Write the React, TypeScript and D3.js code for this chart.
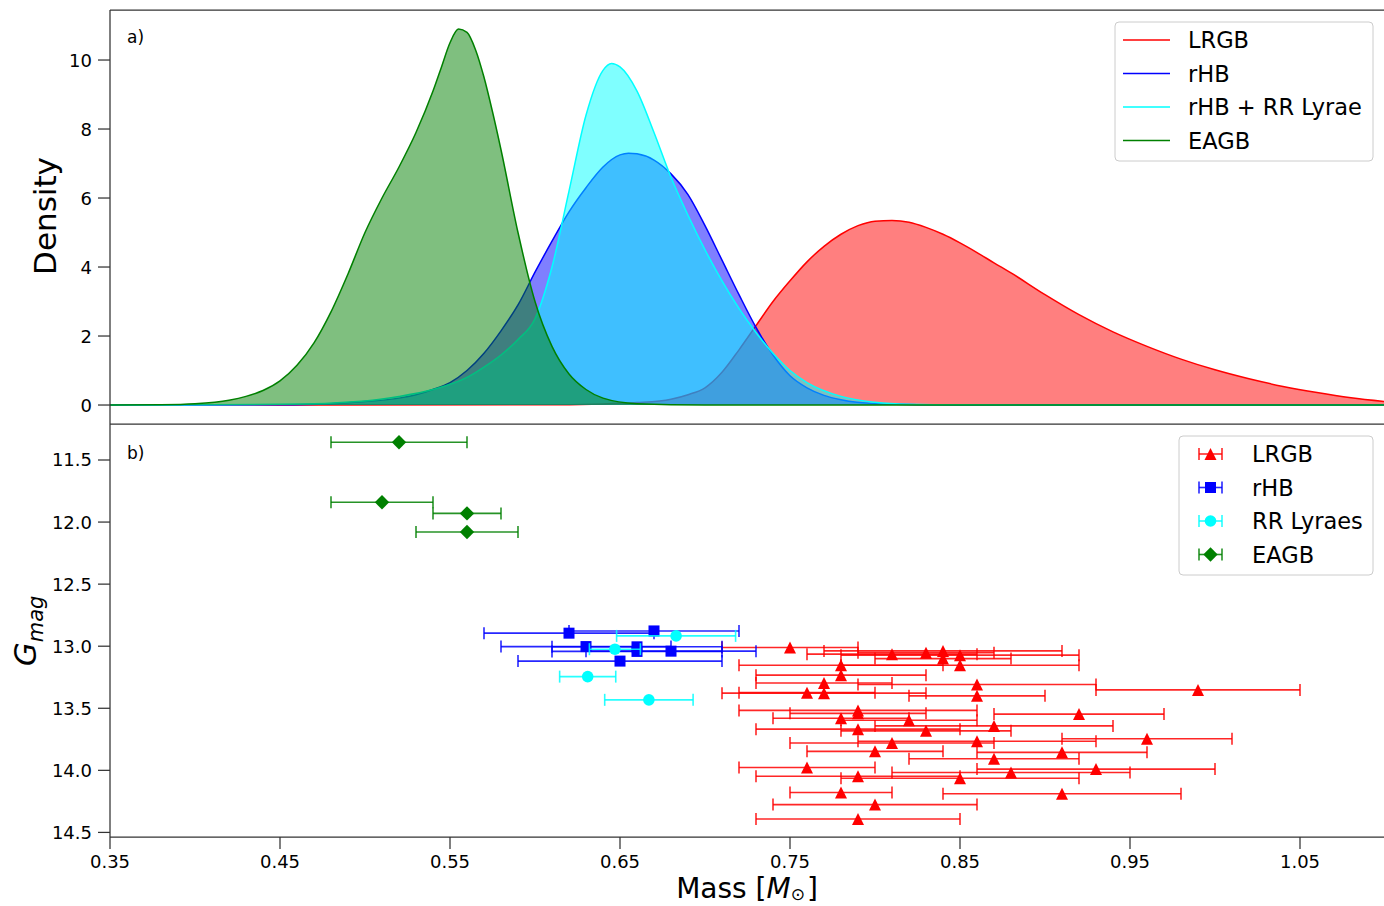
import React from 'react';
import * as d3 from 'd3';

const W = 1384;
const H = 906;

// ---------- Panel a) KDE samples (mass, density) ----------
const lrgbKdeMass = [0.35, 0.60, 0.64, 0.66, 0.68, 0.69, 0.70, 0.71, 0.72, 0.73, 0.74, 0.75, 0.76, 0.77, 0.78, 0.79, 0.80, 0.81, 0.82, 0.83, 0.84, 0.85, 0.86, 0.87, 0.88, 0.90, 0.92, 0.94, 0.96, 0.98, 1.00, 1.02, 1.04, 1.06, 1.08, 1.10];
const lrgbKdeDensity = [0, 0.005, 0.03, 0.07, 0.17, 0.3, 0.5, 0.95, 1.6, 2.3, 3.0, 3.6, 4.15, 4.6, 4.95, 5.2, 5.33, 5.35, 5.3, 5.15, 4.95, 4.7, 4.42, 4.12, 3.83, 3.2, 2.62, 2.12, 1.7, 1.33, 1.02, 0.76, 0.54, 0.36, 0.21, 0.1];

const rhbKdeMass = [0.35, 0.45, 0.48, 0.50, 0.52, 0.53, 0.54, 0.55, 0.56, 0.57, 0.58, 0.59, 0.60, 0.61, 0.62, 0.63, 0.64, 0.65, 0.655, 0.66, 0.67, 0.68, 0.69, 0.70, 0.71, 0.72, 0.73, 0.74, 0.75, 0.76, 0.77, 0.78, 0.80, 0.85, 1.10];
const rhbKdeDensity = [0, 0.01, 0.04, 0.1, 0.2, 0.3, 0.45, 0.65, 1.0, 1.5, 2.15, 2.9, 3.85, 4.75, 5.6, 6.3, 6.9, 7.25, 7.3, 7.28, 7.1, 6.7, 6.1, 5.2, 4.2, 3.2, 2.25, 1.45, 0.85, 0.5, 0.28, 0.15, 0.04, 0, 0];

const rhbRRKdeMass = [0.35, 0.45, 0.50, 0.52, 0.54, 0.56, 0.57, 0.58, 0.59, 0.60, 0.61, 0.62, 0.63, 0.64, 0.645, 0.65, 0.66, 0.67, 0.68, 0.69, 0.70, 0.71, 0.72, 0.73, 0.74, 0.75, 0.76, 0.78, 0.80, 0.82, 0.85, 1.10];
const rhbRRKdeDensity = [0, 0.02, 0.12, 0.25, 0.45, 0.8, 1.1, 1.45, 1.9, 2.5, 4.0, 6.2, 8.4, 9.7, 9.9, 9.8, 9.1, 7.9, 6.6, 5.5, 4.5, 3.6, 2.8, 2.1, 1.5, 1.0, 0.65, 0.25, 0.08, 0.02, 0.005, 0];

const eagbKdeMass = [0.35, 0.38, 0.40, 0.42, 0.43, 0.44, 0.45, 0.46, 0.47, 0.48, 0.49, 0.50, 0.51, 0.52, 0.53, 0.54, 0.545, 0.55, 0.555, 0.56, 0.565, 0.57, 0.575, 0.58, 0.59, 0.60, 0.61, 0.62, 0.63, 0.64, 0.66, 0.70, 1.10];
const eagbKdeDensity = [0, 0.01, 0.04, 0.14, 0.25, 0.42, 0.7, 1.15, 1.8, 2.7, 3.8, 5.0, 6.0, 6.9, 7.9, 9.1, 9.8, 10.5, 10.9, 10.8, 10.3, 9.5, 8.5, 7.4, 5.0, 3.0, 1.7, 0.9, 0.45, 0.2, 0.04, 0, 0];

// ---------- Panel b) star data (mass, G mag, mass error) ----------
const lrgbMass = [0.75, 0.81, 0.83, 0.84, 0.84, 0.85, 0.85, 0.78, 0.78, 0.77, 0.77, 0.76, 0.86, 0.86, 0.99, 0.79, 0.79, 0.92, 0.78, 0.82, 0.87, 0.79, 0.83, 0.96, 0.81, 0.86, 0.80, 0.91, 0.87, 0.76, 0.93, 0.88, 0.79, 0.85, 0.78, 0.91, 0.80, 0.79];
const lrgbGmag = [13.011, 13.064, 13.052, 13.038, 13.100, 13.072, 13.153, 13.153, 13.233, 13.297, 13.378, 13.374, 13.308, 13.400, 13.352, 13.517, 13.541, 13.547, 13.580, 13.597, 13.642, 13.668, 13.682, 13.746, 13.780, 13.766, 13.847, 13.855, 13.907, 13.977, 13.990, 14.018, 14.048, 14.064, 14.179, 14.188, 14.276, 14.392];
const lrgbMassErr = [0.04, 0.05, 0.04, 0.07, 0.04, 0.07, 0.07, 0.06, 0.05, 0.04, 0.06, 0.04, 0.07, 0.04, 0.06, 0.07, 0.04, 0.05, 0.04, 0.04, 0.07, 0.06, 0.05, 0.05, 0.06, 0.07, 0.04, 0.05, 0.05, 0.04, 0.07, 0.07, 0.06, 0.07, 0.03, 0.07, 0.06, 0.06];

const rhbMass = [0.62, 0.67, 0.63, 0.66, 0.66, 0.68, 0.65];
const rhbGmag = [12.895, 12.877, 13.003, 13.005, 13.042, 13.040, 13.120];
const rhbMassErr = [0.05, 0.05, 0.05, 0.05, 0.05, 0.05, 0.06];

const rrMass = [0.683, 0.647, 0.631, 0.667];
const rrGmag = [12.917, 13.024, 13.245, 13.432];
const rrMassErr = [0.035, 0.015, 0.0165, 0.026];

const eagbMass = [0.52, 0.51, 0.56, 0.56];
const eagbGmag = [11.357, 11.840, 11.930, 12.080];
const eagbMassErr = [0.04, 0.03, 0.02, 0.03];

const xTicks = [0.35, 0.45, 0.55, 0.65, 0.75, 0.85, 0.95, 1.05];
const densityTicks = [0, 2, 4, 6, 8, 10];
const gmagTicks = [11.5, 12.0, 12.5, 13.0, 13.5, 14.0, 14.5];

const kdeSeries = [
  { name: 'LRGB', color: 'red', mass: lrgbKdeMass, dens: lrgbKdeDensity },
  { name: 'rHB', color: 'blue', mass: rhbKdeMass, dens: rhbKdeDensity },
  { name: 'rHB + RR Lyrae', color: 'cyan', mass: rhbRRKdeMass, dens: rhbRRKdeDensity },
  { name: 'EAGB', color: 'green', mass: eagbKdeMass, dens: eagbKdeDensity },
];

const starSeries = [
  { name: 'LRGB', color: 'red', marker: 'tri', mass: lrgbMass, g: lrgbGmag, err: lrgbMassErr },
  { name: 'rHB', color: 'blue', marker: 'sq', mass: rhbMass, g: rhbGmag, err: rhbMassErr },
  { name: 'RR Lyraes', color: 'cyan', marker: 'circ', mass: rrMass, g: rrGmag, err: rrMassErr },
  { name: 'EAGB', color: 'green', marker: 'dia', mass: eagbMass, g: eagbGmag, err: eagbMassErr },
];

const FONT = 'DejaVu Sans, Liberation Sans, sans-serif';
const AX = '#333';

function Marker({ type, x, y, color }: { type: string; x: number; y: number; color: string }) {
  if (type === 'tri') {
    const h = 6;
    return <path d={`M${x},${y - h}L${x - h},${y + h}L${x + h},${y + h}Z`} fill={color} />;
  }
  if (type === 'sq') {
    const h = 5.5;
    return <rect x={x - h} y={y - h} width={2 * h} height={2 * h} fill={color} />;
  }
  if (type === 'circ') {
    return <circle cx={x} cy={y} r={5.8} fill={color} />;
  }
  const h = 7.2;
  return <path d={`M${x},${y - h}L${x + h},${y}L${x},${y + h}L${x - h},${y}Z`} fill={color} />;
}

export default function App() {
  const left = 110;
  const right = 1385;
  const topA = 10;
  const botA = 424;
  const botB = 837;

  const x = d3.scaleLinear().domain([0.35, 1.1]).range([left, right]);
  const yA = d3.scaleLinear().domain([-0.55, 11.45]).range([botA, topA]);
  const yB = d3.scaleLinear().domain([11.21, 14.537]).range([botA, botB]);

  const area = d3
    .area<[number, number]>()
    .x((d) => x(d[0]))
    .y0(yA(0))
    .y1((d) => yA(d[1]))
    .curve(d3.curveMonotoneX);
  const line = d3
    .line<[number, number]>()
    .x((d) => x(d[0]))
    .y((d) => yA(d[1]))
    .curve(d3.curveMonotoneX);

  const tickLen = 12;
  const tickFont = 18;

  return (
    <svg
      width={W}
      height={H}
      viewBox={`0 0 ${W} ${H}`}
      style={{ position: 'absolute', left: 0, top: 0, background: '#fff' }}
      fontFamily={FONT}
    >
      <defs>
        <clipPath id="clipA">
          <rect x={left} y={topA} width={right - left} height={botA - topA} />
        </clipPath>
        <clipPath id="clipB">
          <rect x={left} y={botA} width={right - left} height={botB - botA} />
        </clipPath>
      </defs>
      <rect x={0} y={0} width={W} height={H} fill="#fff" />

      {/* Panel a */}
      <g clipPath="url(#clipA)">
        {kdeSeries.map((s) => {
          const pts = s.mass.map((m, i) => [m, s.dens[i]] as [number, number]);
          return (
            <g key={s.name}>
              <path d={area(pts) || ''} fill={s.color} fillOpacity={0.5} stroke="none" />
              <path d={line(pts) || ''} fill="none" stroke={s.color} strokeWidth={1.5} />
            </g>
          );
        })}
      </g>

      {/* Panel b */}
      <g clipPath="url(#clipB)">
        {starSeries.map((s) => (
          <g key={s.name}>
            {s.mass.map((m, i) => {
              const cy = yB(s.g[i]);
              const x0 = x(m - s.err[i]);
              const x1 = x(m + s.err[i]);
              return (
                <g key={i} stroke={s.color} strokeWidth={1.6} strokeOpacity={0.85}>
                  <line x1={x0} x2={x1} y1={cy} y2={cy} />
                  <line x1={x0} x2={x0} y1={cy - 6} y2={cy + 6} />
                  <line x1={x1} x2={x1} y1={cy - 6} y2={cy + 6} />
                </g>
              );
            })}
            {s.mass.map((m, i) => (
              <Marker key={'m' + i} type={s.marker} x={x(m)} y={yB(s.g[i])} color={s.color} />
            ))}
          </g>
        ))}
      </g>

      {/* spines */}
      <g stroke={AX} strokeWidth={1.25} fill="none">
        <line x1={left} x2={left} y1={topA} y2={botB} />
        <line x1={left} x2={right} y1={topA} y2={topA} />
        <line x1={left} x2={right} y1={botA} y2={botA} />
        <line x1={left} x2={right} y1={botB} y2={botB} />
      </g>

      {/* y ticks panel a */}
      {densityTicks.map((t) => (
        <g key={'da' + t}>
          <line x1={left - tickLen} x2={left} y1={yA(t)} y2={yA(t)} stroke={AX} strokeWidth={1.25} />
          <text x={left - 18} y={yA(t)} dy="0.36em" textAnchor="end" fontSize={tickFont} fill="#000">
            {t}
          </text>
        </g>
      ))}
      {/* y ticks panel b */}
      {gmagTicks.map((t) => (
        <g key={'gb' + t}>
          <line x1={left - tickLen} x2={left} y1={yB(t)} y2={yB(t)} stroke={AX} strokeWidth={1.25} />
          <text x={left - 18} y={yB(t)} dy="0.36em" textAnchor="end" fontSize={tickFont} fill="#000">
            {t.toFixed(1)}
          </text>
        </g>
      ))}
      {/* x ticks */}
      {xTicks.map((t) => (
        <g key={'x' + t}>
          <line x1={x(t)} x2={x(t)} y1={botB} y2={botB + tickLen} stroke={AX} strokeWidth={1.25} />
          <text x={x(t)} y={botB + 31} textAnchor="middle" fontSize={tickFont} fill="#000">
            {t.toFixed(2)}
          </text>
        </g>
      ))}

      {/* panel labels */}
      <text x={127} y={43} fontSize={17} fill="#000">a)</text>
      <text x={127} y={459} fontSize={17} fill="#000">b)</text>

      {/* axis labels */}
      <text transform="translate(56,216) rotate(-90)" textAnchor="middle" fontSize={31} fill="#000">
        Density
      </text>
      <text transform="translate(36,631) rotate(-90)" textAnchor="middle" fontSize={31} fill="#000">
        <tspan fontStyle="italic">G</tspan>
        <tspan fontStyle="italic" fontSize={21} dy={7}>mag</tspan>
      </text>
      <text x={747} y={898} textAnchor="middle" fontSize={28} fill="#000">
        <tspan>Mass [</tspan>
        <tspan fontStyle="italic">M</tspan>
        <tspan fontSize={17} dy={2}>⊙</tspan>
        <tspan dy={-2} dx={2}>]</tspan>
      </text>

      {/* legend a */}
      <g>
        <rect x={1115} y={22} width={258} height={139} rx={4} fill="#fff" fillOpacity={0.8} stroke="#ccc" strokeWidth={1} />
        {kdeSeries.map((s, i) => {
          const ly = 40 + i * 33.5;
          return (
            <g key={'la' + s.name}>
              <line x1={1123} x2={1170} y1={ly} y2={ly} stroke={s.color} strokeWidth={1.6} />
              <text x={1188} y={ly} dy="0.36em" fontSize={22.5} fill="#000">
                {s.name}
              </text>
            </g>
          );
        })}
      </g>

      {/* legend b */}
      <g>
        <rect x={1179} y={436} width={194} height={139} rx={4} fill="#fff" fillOpacity={0.8} stroke="#ccc" strokeWidth={1} />
        {starSeries.map((s, i) => {
          const ly = 454 + i * 33.5;
          return (
            <g key={'lb' + s.name}>
              <g stroke={s.color} strokeWidth={1.6} strokeOpacity={0.85}>
                <line x1={1199} x2={1222} y1={ly} y2={ly} />
                <line x1={1199} x2={1199} y1={ly - 6} y2={ly + 6} />
                <line x1={1222} x2={1222} y1={ly - 6} y2={ly + 6} />
              </g>
              <Marker type={s.marker} x={1210.5} y={ly} color={s.color} />
              <text x={1252} y={ly} dy="0.36em" fontSize={22.5} fill="#000">
                {s.name}
              </text>
            </g>
          );
        })}
      </g>
    </svg>
  );
}
